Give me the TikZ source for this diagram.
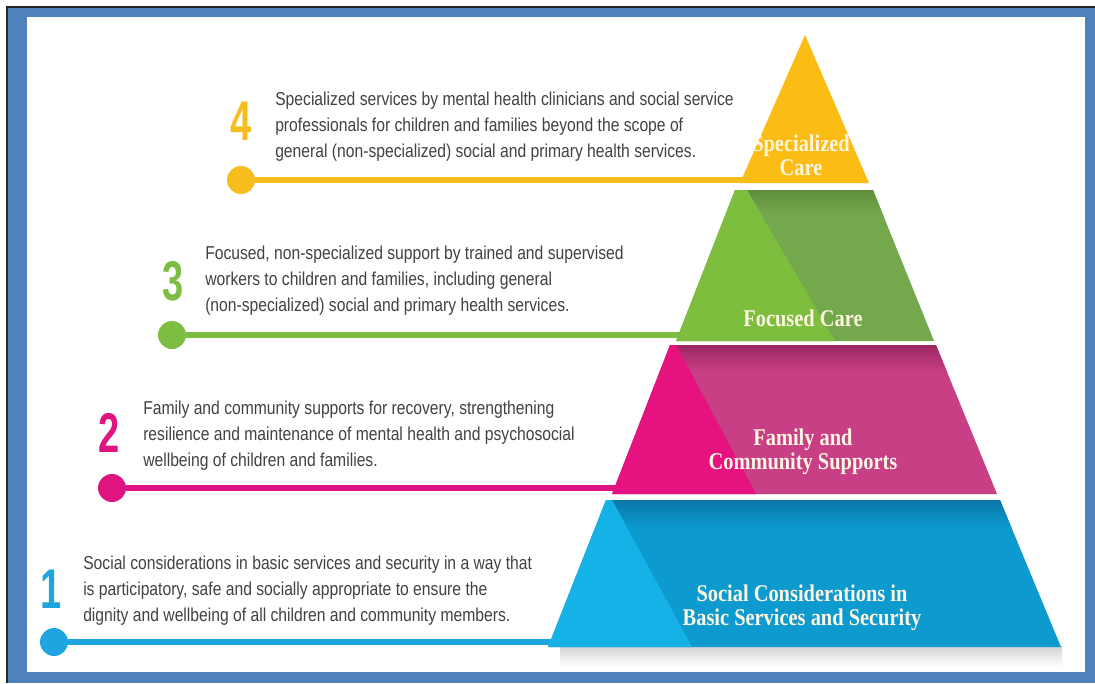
\documentclass[tikz,border=0pt]{standalone}
\usepackage{fontspec}
\newfontfamily\bodyfont[FakeStretch=0.84]{Liberation Sans}
\newfontfamily\numfont[FakeStretch=0.68]{Liberation Sans}
\newfontfamily\labfont[FakeStretch=0.85]{Liberation Serif}
\definecolor{frameblue}{HTML}{4F81BD}
\definecolor{txtgray}{HTML}{424242}
\definecolor{labwhite}{HTML}{FFF6E2}
\definecolor{ycol}{HTML}{FBBC13}
\definecolor{gL}{HTML}{7DBE3E}
\definecolor{gD}{HTML}{74A84D}
\definecolor{gTop}{HTML}{5F8E3C}
\definecolor{pL}{HTML}{E5127F}
\definecolor{pD}{HTML}{C83F85}
\definecolor{pTop}{HTML}{9B2862}
\definecolor{bL}{HTML}{15B2E8}
\definecolor{bD}{HTML}{0C9ACF}
\definecolor{bTop}{HTML}{0A78A8}
\definecolor{ycon}{HTML}{F7BD1F}
\definecolor{gcon}{HTML}{7DBE42}
\definecolor{pcon}{HTML}{DF1480}
\definecolor{bcon}{HTML}{1EA5DF}
\begin{document}
\begin{tikzpicture}[x=0.75pt,y=-0.75pt,
  body/.style={font=\bodyfont\fontsize{14}{19.5}\selectfont, text=txtgray, align=left, anchor=west, inner sep=0pt},
  num/.style={font=\numfont\bfseries\fontsize{42}{42}\selectfont, inner sep=0pt},
  dot/.style={circle, minimum size=21pt, inner sep=0pt},
  conn/.style={line width=4.5pt},
  lab/.style={font=\labfont\bfseries\fontsize{18}{18}\selectfont, text=labwhite, align=center, inner sep=0pt}]
% frame
\useasboundingbox (0,0) rectangle (1095,683);
\fill[white] (0,0) rectangle (1095,683);
\fill[black!85] (6,5.5) rectangle (1095,683);
\fill[frameblue] (8,7.5) rectangle (1095,683);
\fill[white] (27,17) rectangle (1085,672);
% shadow under pyramid
\shade[top color=black!18, bottom color=white] (560,646) rectangle (1062,666);
% circles
\node[dot, fill=ycon] (c4) at (241,180) {};
\node[dot, fill=gcon] (c3) at (172,335) {};
\node[dot, fill=pcon] (c2) at (112,488) {};
\node[dot, fill=bcon] (c1) at (54,642) {};
\coordinate (e4) at (748,180);
\coordinate (e3) at (684,335);
\coordinate (e2) at (620,488);
\coordinate (e1) at (556,642);
\draw[conn, ycon] (c4) -- (e4);
\draw[conn, gcon] (c3) -- (e3);
\draw[conn, pcon] (c2) -- (e2);
\draw[conn, bcon] (c1) -- (e1);
% tier 4 (yellow)
\fill[ycol] (805,35) -- (869,183) -- (740,183) -- cycle;
% tier 3 (green)
\fill[gD] (735,190) -- (873,190) -- (934,341) -- (676,341) -- cycle;
\begin{scope}
\clip (747,190) -- (873,190) -- (934,341) -- (835,341) -- cycle;
\shade[top color=gTop, bottom color=gD] (700,190) rectangle (950,215);
\end{scope}
\fill[gL] (735,190) -- (747,190) -- (835,341) -- (676,341) -- cycle;
% tier 2 (pink)
\fill[pD] (670,345) -- (936,345) -- (997,494) -- (612,494) -- cycle;
\begin{scope}
\clip (676,345) -- (936,345) -- (997,494) -- (756,494) -- cycle;
\shade[top color=pTop, bottom color=pD] (650,345) rectangle (1000,372);
\end{scope}
\fill[pL] (670,345) -- (676,345) -- (756,494) -- (612,494) -- cycle;
% tier 1 (blue)
\fill[bD] (606,500) -- (1000,500) -- (1061,647) -- (548,647) -- cycle;
\begin{scope}
\clip (612,500) -- (1000,500) -- (1061,647) -- (692,647) -- cycle;
\shade[top color=bTop, bottom color=bD] (590,500) rectangle (1070,528);
\end{scope}
\fill[bL] (606,500) -- (612,500) -- (692,647) -- (548,647) -- cycle;
% tier labels
\node[lab] (l4) at (801,155) {Specialized\\Care};
\node[lab] (l3) at (803,318) {Focused Care};
\node[lab] (l2) at (803,452) {Family and\\Community Supports};
\node[lab] (l1) at (802,608) {Social Considerations in\\Basic Services and Security};
% numbers
\node[num, text=ycon] (n4) at (241,121) {4};
\node[num, text=gcon] (n3) at (173,281) {3};
\node[num, text=pcon] (n2) at (109,433) {2};
\node[num, text=bcon] (n1) at (51,589) {1};
% descriptions
\node[body] (t4) at (275,127) {Specialized services by mental health clinicians and social service\\professionals for children and families beyond the scope of\\general (non-specialized) social and primary health services.};
\node[body] (t3) at (205,281) {Focused, non-specialized support by trained and supervised\\workers to children and families, including general\\(non-specialized) social and primary health services.};
\node[body] (t2) at (143,436) {Family and community supports for recovery, strengthening\\resilience and maintenance of mental health and psychosocial\\wellbeing of children and families.};
\node[body] (t1) at (83,591) {Social considerations in basic services and security in a way that\\is participatory, safe and socially appropriate to ensure the\\dignity and wellbeing of all children and community members.};
\end{tikzpicture}
\end{document}
